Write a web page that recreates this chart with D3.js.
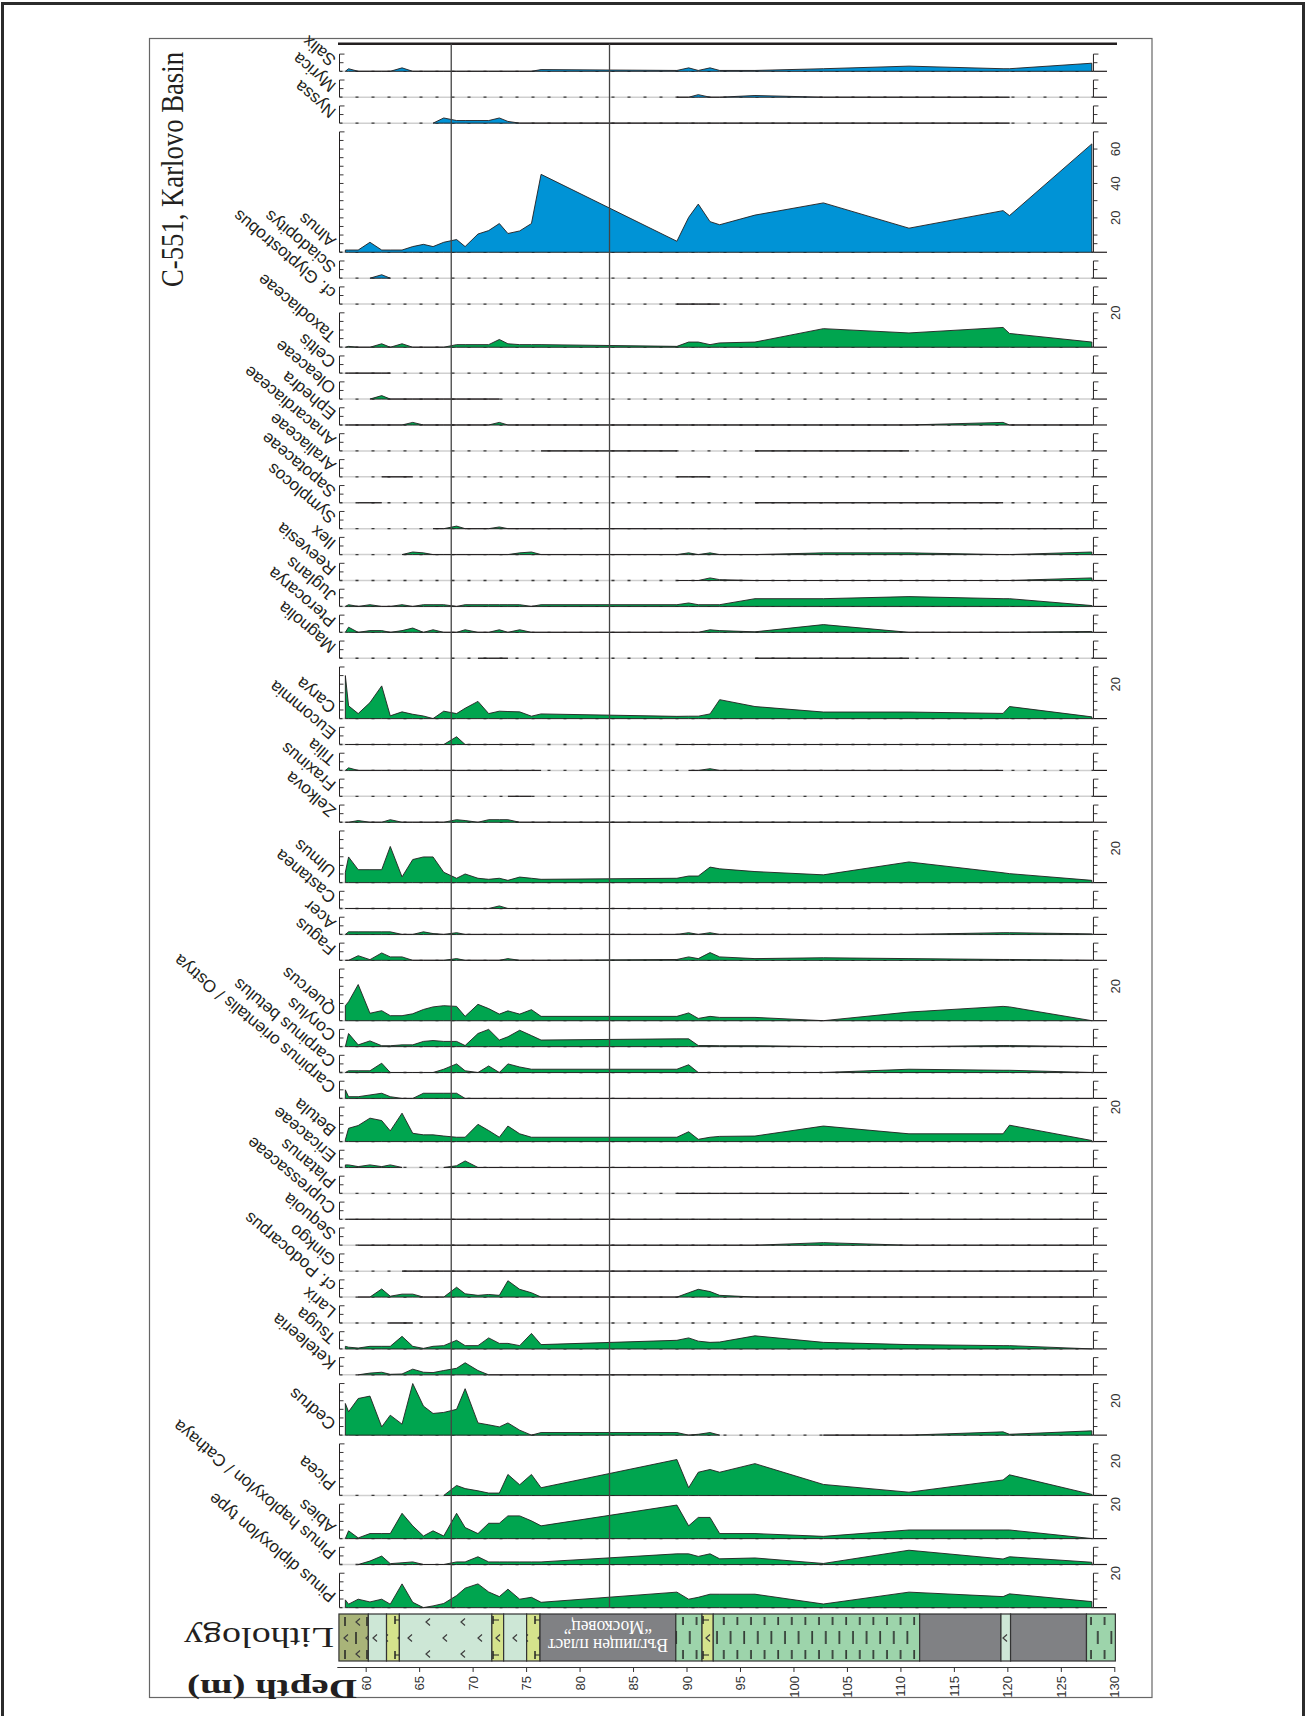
<!DOCTYPE html>
<html>
<head>
<meta charset="utf-8">
<script src="https://cdn.jsdelivr.net/npm/d3@7"></script>
<style>
  body { margin: 0; background: #fff; }
  svg { display: block; }
</style>
</head>
<body>
<div id="chart"></div>
<script>
var _ = null;   // taxon not recorded at this level

// sample depths (m)
var depths = [58.1, 58.4, 59.3, 60.4, 61.5, 62.3, 63.4, 64.4, 65.4, 66.3,
              67.3, 68.5, 69.3, 70.5, 71.5, 72.5, 73.3, 74.4, 75.5, 76.4,
              89.1, 90.2, 91.1, 92.2, 93.1, 96.4, 102.8, 110.8, 119.6, 120.2, 127.9];

var taxa = ["Salix", "Myrica", "Nyssa", "Alnus", "Sciadopitys", "cf. Glyptostrobus",
            "Taxodiaceae", "Celtis", "Oleaceae", "Ephedra", "Anacardiaceae", "Araliaceae",
            "Sapotaceae", "Symplocos", "Ilex", "Reevesia", "Juglans", "Pterocarya",
            "Magnolia", "Carya", "Eucommia", "Tilia", "Fraxinus", "Zelkova", "Ulmus",
            "Castanea", "Acer", "Fagus", "Quercus", "Corylus", "Carpinus betulus",
            "Carpinus orientalis / Ostrya", "Betula", "Ericaceae", "Platanus",
            "Cupressaceae", "Sequoia", "Ginkgo", "cf. Podocarpus", "Larix", "Tsuga",
            "Keteleeria", "Cedrus", "Picea", "Abies", "Pinus haploxylon / Cathaya",
            "Pinus diploxylon type"];

// top of the % scale for each taxon
var scaleMax = [10, 10, 10, 70, 10, 10, 20, 10, 10, 10, 10, 10, 10, 10, 10, 10, 10, 10,
                10, 30, 10, 10, 10, 10, 30, 10, 10, 10, 30, 10, 10, 10, 20, 10, 10, 10,
                10, 10, 10, 10, 10, 10, 30, 30, 20, 10, 20];

var blueTaxa = ["Salix", "Myrica", "Nyssa", "Alnus", "Sciadopitys", "cf. Glyptostrobus"];

// percentages, one row per taxon, one value per sample depth
var pct = [
  [0,1.5,0,0,0,0,2,0,0,0, 0,0,0,0,0,0,0,0,0,1, 0.5,2,0.5,2,0.5,0.5,1.5,3,1.5,1.5,4.7],
  [_,_,_,_,_,_,_,_,_,_, _,_,_,_,_,_,_,_,_,_, 0,0,1.5,0,0,1,0,0,0,0,_],
  [_,_,_,_,_,_,_,_,_,0, 3,1.5,1.5,1.5,1.5,3,1,0,0,0, 0,0,0,0,0,0,0,0,0,0,_],
  [1.3,1.3,1.3,5.8,1.3,1.3,1.3,3.3,4.6,3.3, 5.8,7.4,3.3,10.6,12.6,16.7,10.9,12.4,16.7,45.3, 6.4,20.3,28,17.8,16,21.6,28.7,14,24.2,21.3,63],
  [_,_,_,0,2,0,_,_,_,_, _,_,_,_,_,_,_,_,_,_, _,_,_,_,_,_,_,_,_,_,_],
  [_,_,_,_,_,_,_,_,_,_, _,_,_,_,_,_,_,_,_,_, 0,0,0,0,0,_,_,_,_,_,_],
  [0,0.5,0,0,2,0,2,0,0,0, 0,1.5,1.5,1.5,1.5,4.5,2,1.5,1.5,1.5, 0.5,3,3,1.5,2.5,3,10.8,8.3,11.5,8,3],
  [0,0,0,0,0,0,_,_,_,_, _,_,_,_,_,_,_,_,_,_, _,_,_,_,_,_,_,_,_,_,_],
  [_,_,_,0,2,0,0,0,0,0, 0,0,0,0,0,0,_,_,_,_, _,_,_,_,_,_,_,_,_,_,_],
  [0,0,0,0,0,0,0,1.5,0,0, 0,0,0,0,0,1.5,0,0,0,0, 0,0,0,0,0,0,0,0,1.5,0,0],
  [_,_,_,_,_,_,_,_,_,_, _,_,_,_,_,_,_,_,_,0, 0,_,_,_,_,0,0,0,_,_,_],
  [_,_,_,_,0,0,0,0,_,_, _,_,_,_,_,_,_,_,_,_, 0,0,0,0,_,_,_,_,_,_,_],
  [_,_,0,0,0,_,_,_,_,_, _,_,_,_,_,_,_,_,_,_, _,_,_,_,_,0,0,0,0,_,_],
  [_,_,_,_,_,_,_,_,_,0, 0,1.5,0,0,0,1,0,0,0,0, 0,0,0,0,0,0,0,0,0,0,0],
  [_,_,_,_,_,_,0,1.5,1,0, 0,0,0,0,0,0,0,1,1.5,0, 0,1,0,1,0,0,1,1,0,0,1.5],
  [_,_,_,_,_,_,_,_,_,_, _,_,_,_,_,_,_,_,_,_, 0,0,0,1.5,0.5,0,0,0,0,0,1.5],
  [0,1,0,1,0,0,1,0,1,1, 1,0,1,1,1,1,1,1,0,1, 1,2,1,1,1,4.5,4.5,5.7,4.5,4.5,0.5],
  [0,3,0,1,1,0,1,2.5,0,1.5, 0,0,1.5,0,0,1.5,0,1.5,0,0, 0,0,0,1.5,1,0.3,4.5,0,0,0,0.5],
  [_,_,_,_,_,_,_,_,_,_, _,_,_,0,0,0,0,_,_,_, _,_,_,_,_,0,0,0,_,_,_],
  [25,7.4,2.9,9.3,19,1.6,3.9,2.5,1.5,0, 4.3,2.9,6,10,2.9,4.3,4.1,3.9,1.4,2.7, 1.3,1.4,1.4,2.7,11,7,3.8,3.8,3,7,1],
  [0,0,0,0,0,0,0,0,0,0, 0,4.5,0,0,0,0,0,0,0,_, 0,0,0,0,0,0,0,0,0,0,0],
  [0,1.5,0,0,0,0,0,0,0,0, 0,0,0,0,0,0,0,0,0,0, _,0,0,1,0,0,0,0,0,_,_],
  [_,_,_,_,_,_,_,_,_,_, _,_,_,_,_,_,0,0,0,_, _,_,_,_,_,_,_,_,_,_,_],
  [0,0,1,0,0,1.5,0,0,0,0, 0,1.5,1,0,1.5,1.5,1.5,0,0,0, 0,0,0,0,0,0,0,0,0,0,0],
  [6,14.9,7.5,7.5,7.5,21,3.3,13.4,14.9,14.9, 6,2.5,5,2.5,1.9,2.5,1.3,3.2,2.5,1.9, 2.5,3.8,3.8,9,8,6.4,4.5,12,5.7,5.2,1.3],
  [0,0,0,0,0,0,0,0,0,0, 0,0,0,0,0,1.5,0,0,0,0, 0,0,0,0,0,0,0,0,0,0,0],
  [0,1.5,1.5,1.5,1.5,1.5,0,0,1.5,0.5, 0,1,0,0,0,0,0,0,0,0, 0,1,0,1,0,0,0,0,1,1,0.3],
  [0,0,2.7,0.4,4.3,2,2,0,0,0, 0,1,0,0,0,0,1,0,0,0, 0.5,2,1,4.5,2,1,1.5,1,0.5,0.5,0],
  [8.7,11,21,4.3,5.8,2.9,2.9,4,6.5,8, 8.7,8.3,2.5,9.5,7,3.8,5.7,3.8,6.4,2.5, 2.5,4.5,1.3,2.5,1.9,1.9,0,5,8.3,8,0],
  [0,7.6,1,3.3,0.5,0.5,1,1,3,3.5, 3,3,0.6,7.6,10,3.8,5.7,9.5,6.4,3.8, 4.5,4.5,0.6,0.6,0.5,0.5,0,0,0.6,0.6,0],
  [0,1,1,1,5.4,0,0,0,0,0, 1.9,5,1,0,3.8,0,5,3.2,1.9,1.9, 1.9,4.5,0,0,0,0,0,1.9,1.3,1.3,0],
  [5,1,1,2,3,1,0,0,3,3, 3,3,0,0,0,0,0,0,0,0, 0,0,0,0,0,0,0,0,0,0,0],
  [1,7.7,9.3,13.6,12.2,6.2,16.5,4.8,3.9,3.9, 3.2,2.5,2.5,10,6.4,2.5,9,4.5,2.5,2.5, 2.5,5.7,1.3,2.5,3,3.2,9,4.5,4.5,9.5,0.6],
  [1.5,1.5,0.5,1.5,0.5,1.5,0,_,_,_, 0,1,3.8,0,0,0,0,0,0,0, 0,0,0,0,0,0,0,0,0,0,0],
  [_,_,_,_,_,_,_,_,_,_, _,_,_,_,_,_,_,_,_,_, 0,0,0,0,0,0,0,0,_,_,_],
  [0,0,0,0,0,0,0,0,0,0, 0,0,0,0,0,0,0,0,0,0, 0,0,0,0,0,0,0,0,0,0,0],
  [_,_,0,0,0,0,0,0,0,0, 0,0,0,0,0,0,0,0,0,0, 0,0,0,0,0,0,1.5,0,0,0,0],
  [_,_,_,_,_,_,0,0,0,0, 0,0,0,0,0,0,0,0,0,0, 0,0,0,0,0,0,0,0,0,0,0],
  [_,_,0,0,4.7,0.5,1.7,1.7,0,0, 0,5.7,1.9,1,1.5,1,9.5,4.5,2.5,0, 0,2.5,4.5,3.2,1,0,0,0,0,0,0],
  [_,_,_,_,_,0,0,0,_,_, _,_,_,_,_,_,_,_,_,_, _,_,_,_,_,_,_,_,_,_,_],
  [1.5,1,0.5,1.5,1.5,1.5,7.3,1.5,0.3,1.5, 1.9,5,1.9,1.9,6.4,3.2,3.2,1.9,9,2.5, 5,6.4,4.5,3.8,4,7.6,3.8,2.5,1.9,1.9,0],
  [_,_,0,1,1.5,0.3,0.5,3.3,1.5,1.3, 2.5,3.8,7,2.5,0,0,0,0,0,0, 0,0,0,0,0,0,0,0,0,0,0],
  [18.4,13.6,21.3,22.7,4.8,11.6,6.4,30,16.9,12.6, 13.2,15,27,7.1,6,4.8,7.1,2.9,0,1.5, 1.5,0,0.5,1.5,0,_,0,0,1.9,0.5,2.5],
  [_,_,_,_,_,_,_,_,_,_, 0,5.8,4,2.7,1.4,1.4,12.2,6.2,12.2,4.5, 20.9,4.5,13.5,15.1,13.5,18.5,6.4,1.9,9,12,0.6],
  [0,4.5,0.4,2.9,2.9,2.9,14.7,7.4,1.5,4.5, 1.5,14.7,6.4,2.9,8.9,8.9,13.2,13.2,10.3,7.4, 19.5,7.4,12.3,12.3,2.9,2.9,1.3,5,5,5,0],
  [_,_,0,2,4.9,0.5,1,1.5,0,0, 0,1.5,1.5,4.5,1.5,1.5,1.5,1.5,1.5,1.5, 6.2,6.2,4.7,6.2,3.3,3.8,0.6,8.3,3.2,4.5,1.3],
  [4.5,2,4.9,3.3,4.9,2,13.8,3.1,0,1, 2.4,7,11.3,13.8,9.1,6.4,10.7,4.9,6,3.1, 9,4.9,6,7.8,7.8,7.8,2.1,9,6.4,8,3.5]
];

// lithology units (depth from / to, kind)
var lithFrom = [57.5, 60.25, 61.95, 63.15, 71.8, 72.9, 75.05, 76.3, 89.0, 91.45, 92.5, 111.8, 119.4, 120.3, 127.4];
var lithTo   = [60.25, 61.95, 63.15, 71.8, 72.9, 75.05, 76.3, 89.0, 91.45, 92.5, 111.8, 119.4, 120.3, 127.4, 130.1];
var lithKind = ["olive", "tuff", "yellow", "tuff", "yellow", "tuff", "yellow", "coal",
                "clay", "yellow", "clay", "coal", "tuff", "coal", "clay"];

var depthTicks = d3.range(60, 131, 5);
var zoneLines = [68, 82.8];

var W = 1306, H = 1716;
var pxPerPct = 1.72, rowGap = 8.72, rowTop = 54.1;
var ink = "#231f20";

var svg = d3.select("#chart")
    .append("svg")
    .attr("width", W)
    .attr("height", H)
    .style("font-family", "'Liberation Sans', Arial, sans-serif");

// frames
svg.append("rect").attr("x", 2.5).attr("y", 3.5).attr("width", 1301).attr("height", 1740)
    .attr("fill", "none").attr("stroke", "#2b2b2b").attr("stroke-width", 3);
svg.append("rect").attr("x", 149.5).attr("y", 38.5).attr("width", 1002.5).attr("height", 1659)
    .attr("fill", "none").attr("stroke", "#666").attr("stroke-width", 1.2);

var x = d3.scaleLinear().domain([57.3, 130]).range([336.8, 1114.3]);
var xLeftBar = 339.5, xRightBar = x(128.05), xBaseEnd = 1107;

// baseline of every row
var base = [], acc = rowTop;
taxa.forEach(function (t, i) {
    acc += scaleMax[i] * pxPerPct;
    base.push(acc);
    acc += rowGap;
});

// top line
svg.append("line").attr("x1", 338).attr("x2", 1117).attr("y1", 43.7).attr("y2", 43.7)
    .attr("stroke", ink).attr("stroke-width", 2.6);

var rows = svg.append("g");

function scaleBar(g, x0, b, m, ticks) {
    g.append("line").attr("x1", x0).attr("x2", x0).attr("y1", b).attr("y2", b - m * pxPerPct)
        .attr("stroke", ink).attr("stroke-width", 1);
    g.selectAll(null).data(ticks).enter().append("line")
        .attr("x1", x0).attr("x2", function (t) { return t === m ? x0 + 5 : x0 + 4; })
        .attr("y1", function (t) { return b - t * pxPerPct; })
        .attr("y2", function (t) { return b - t * pxPerPct; })
        .attr("stroke", ink).attr("stroke-width", 0.9);
}

taxa.forEach(function (name, i) {
    var b = base[i], m = scaleMax[i];
    var y = d3.scaleLinear().domain([0, m]).range([b, b - m * pxPerPct]);
    var col = blueTaxa.indexOf(name) >= 0 ? "#0093d6" : "#00a54f";
    var g = rows.append("g");

    // dashed baseline where nothing is recorded
    g.append("line").attr("x1", xLeftBar).attr("x2", xRightBar).attr("y1", b).attr("y2", b)
        .attr("stroke", "#cfcfcf").attr("stroke-width", 1.5);
    g.append("line").attr("x1", xLeftBar).attr("x2", xRightBar).attr("y1", b).attr("y2", b)
        .attr("stroke", "#3a3a3a").attr("stroke-width", 1.3).attr("stroke-dasharray", "3,13");
    g.append("line").attr("x1", xRightBar).attr("x2", xBaseEnd).attr("y1", b).attr("y2", b)
        .attr("stroke", ink).attr("stroke-width", 1.2);

    var pts = depths.map(function (d, j) { return {d: d, v: pct[i][j]}; });
    var area = d3.area()
        .defined(function (p) { return p.v !== null; })
        .x(function (p) { return x(p.d); })
        .y0(b)
        .y1(function (p) { return y(Math.min(p.v, m)); });
    g.append("path").datum(pts).attr("d", area)
        .attr("fill", col).attr("stroke", ink).attr("stroke-width", 0.9)
        .attr("stroke-linejoin", "round");

    var every5 = d3.range(5, m + 0.1, 5);
    scaleBar(g, xLeftBar, b, m, every5);
    scaleBar(g, xRightBar, b, m, m > 30 ? [5].concat(d3.range(10, m + 0.1, 10)) : every5);

    // numbers on the right scale
    var labs = m >= 20 ? d3.range(20, m + 0.1, 20) : [];
    g.selectAll(null).data(labs).enter().append("text")
        .attr("transform", function (t) { return "translate(1115," + (b - t * pxPerPct) + ") rotate(-90)"; })
        .attr("text-anchor", "middle").attr("dominant-baseline", "central")
        .attr("font-size", 13).attr("fill", "#333")
        .text(function (t) { return t; });

    // slanted taxon name
    g.append("text")
        .attr("transform", "translate(337," + (b - 13) + ") rotate(-140)")
        .attr("font-size", 17).attr("fill", ink)
        .text(name);
});

// zone lines
svg.selectAll(null).data(zoneLines).enter().append("line")
    .attr("x1", function (d) { return x(d); }).attr("x2", function (d) { return x(d); })
    .attr("y1", 43.7).attr("y2", base[base.length - 1])
    .attr("stroke", "#444").attr("stroke-width", 1.3);

// lithology patterns
var lithY = 1614, lithH = 47;
var defs = svg.append("defs");
function pattern(id, w, fill) {
    var p = defs.append("pattern").attr("id", id).attr("patternUnits", "userSpaceOnUse")
        .attr("x", 0).attr("y", lithY).attr("width", w).attr("height", lithH);
    p.append("rect").attr("width", w).attr("height", lithH).attr("fill", fill);
    return p;
}
function chevron(p, cx, cy) {
    p.append("path").attr("d", "M" + (cx + 4) + "," + (cy - 3.5) + "L" + cx + "," + cy + "L" + (cx + 4) + "," + (cy + 3.5))
        .attr("fill", "none").attr("stroke", "#3c3c3c").attr("stroke-width", 1.2);
}
function dash(p, x0, y0, y1) {
    p.append("line").attr("x1", x0).attr("x2", x0).attr("y1", y0).attr("y2", y1)
        .attr("stroke", "#222").attr("stroke-width", 1.5);
}
var pTuff = pattern("tuff", 35, "#cde7d6");
chevron(pTuff, 6, 8); chevron(pTuff, 23, 24); chevron(pTuff, 6, 40);
var pYel = pattern("yellow", 14, "#d5e38c");
dash(pYel, 3, 2, 10); pYel.append("line").attr("x1", 3).attr("x2", 9).attr("y1", 6).attr("y2", 6).attr("stroke", "#222");
chevron(pYel, 6, 24);
dash(pYel, 3, 37, 45); pYel.append("line").attr("x1", 3).attr("x2", 9).attr("y1", 41).attr("y2", 41).attr("stroke", "#222");
var pOl = pattern("olive", 22, "#a9b479");
chevron(pOl, 4, 8); dash(pOl, 15, 3, 12); dash(pOl, 4, 18, 30); chevron(pOl, 14, 24); dash(pOl, 15, 36, 45); chevron(pOl, 4, 40);
var pClay = pattern("clay", 13.6, "#9dd4ab");
dash(pClay, 3, 3, 11); dash(pClay, 9.8, 17, 30); dash(pClay, 3, 36, 45);

var lith = svg.append("g");
lith.selectAll(null).data(lithKind).enter().append("rect")
    .attr("x", function (k, i) { return x(lithFrom[i]); })
    .attr("width", function (k, i) { return x(lithTo[i]) - x(lithFrom[i]); })
    .attr("y", lithY).attr("height", lithH)
    .attr("fill", function (k) { return k === "coal" ? "#808184" : "url(#" + k + ")"; })
    .attr("stroke", "#333").attr("stroke-width", 1.2);

// coal seam name (upside down like the rest of the turned figure)
var seamX = x(82.65);
lith.append("text").attr("transform", "translate(" + seamX + ",1645) rotate(180)")
    .attr("text-anchor", "middle").attr("dominant-baseline", "central")
    .attr("font-family", "'Liberation Serif', 'Times New Roman', serif").attr("font-size", 19)
    .attr("fill", "#fff").attr("textLength", 120).attr("lengthAdjust", "spacingAndGlyphs")
    .text("Въглищен пласт");
lith.append("text").attr("transform", "translate(" + seamX + ",1627.5) rotate(180)")
    .attr("text-anchor", "middle").attr("dominant-baseline", "central")
    .attr("font-family", "'Liberation Serif', 'Times New Roman', serif").attr("font-size", 19)
    .attr("fill", "#fff").attr("textLength", 88).attr("lengthAdjust", "spacingAndGlyphs")
    .text("\u201cМосковец\u201d");

// depth axis
var axisG = svg.append("g")
    .attr("transform", "translate(0,1667)")
    .call(d3.axisBottom(x).tickValues(depthTicks).tickSize(5).tickSizeOuter(0));
axisG.select(".domain").attr("stroke", "#333").attr("stroke-width", 1.2);
axisG.selectAll(".tick line").attr("stroke", "#333");
axisG.selectAll(".tick text")
    .attr("transform", "rotate(-90)")
    .attr("x", -9).attr("y", 0).attr("dy", "0.35em")
    .style("text-anchor", "end")
    .attr("font-size", 13).attr("fill", "#333")
    .attr("font-family", "'Liberation Sans', Arial, sans-serif");

// titles
var serif = "'Liberation Serif', 'Times New Roman', serif";
svg.append("text").attr("transform", "translate(183,287) rotate(-90)")
    .attr("font-family", serif).attr("font-size", 32).attr("fill", ink)
    .attr("textLength", 235).attr("lengthAdjust", "spacingAndGlyphs")
    .text("C-551, Karlovo Basin");
svg.append("text").attr("transform", "translate(334,1638) rotate(180)")
    .attr("font-family", serif).attr("font-size", 30).attr("fill", ink)
    .attr("dominant-baseline", "central")
    .attr("textLength", 150).attr("lengthAdjust", "spacingAndGlyphs")
    .text("Lithology");
svg.append("text").attr("transform", "translate(357,1689) rotate(180)")
    .attr("font-family", serif).attr("font-size", 28).attr("font-weight", "bold").attr("fill", ink)
    .attr("dominant-baseline", "central")
    .attr("textLength", 170).attr("lengthAdjust", "spacingAndGlyphs")
    .text("Depth (m)");
</script>
</body>
</html>
